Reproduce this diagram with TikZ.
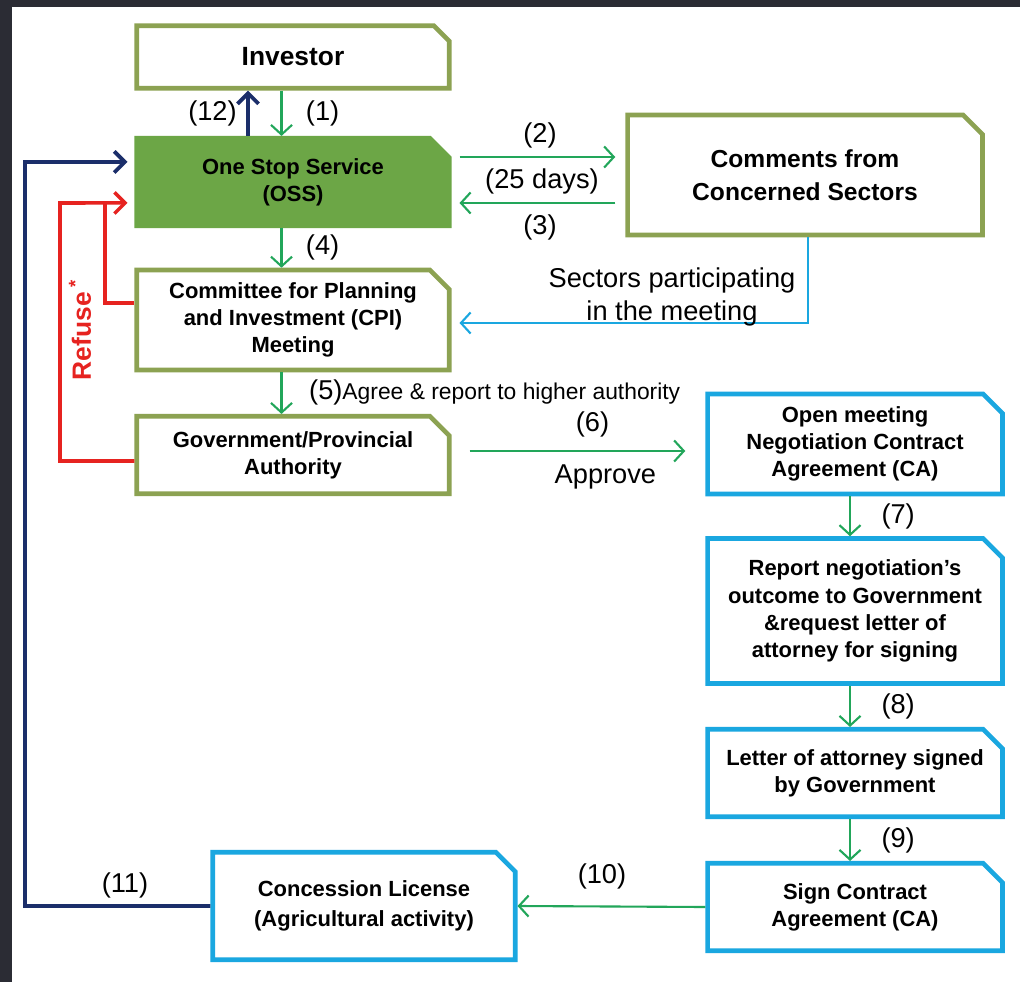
\documentclass[tikz,border=0pt]{standalone}
\usepackage{fontspec}
\setmainfont{Liberation Sans}
\usetikzlibrary{arrows.meta,shapes.misc}
\definecolor{boxolive}{RGB}{140,162,82}
\definecolor{ossgreen}{RGB}{108,166,70}
\definecolor{flowgreen}{RGB}{34,166,90}
\definecolor{stepblue}{RGB}{26,167,224}
\definecolor{backnavy}{RGB}{27,46,106}
\definecolor{refusered}{RGB}{230,35,32}
\definecolor{framegray}{RGB}{43,44,52}
\tikzset{
  cutbox/.style={chamfered rectangle, chamfered rectangle corners=north east,
    chamfered rectangle xsep=7.5pt, inner sep=0pt, align=center, line width=2.6pt,
    font=\bfseries\fontsize{12.5}{15.5}\selectfont},
  olivebox/.style={cutbox, draw=boxolive, fill=white},
  bluebox/.style={cutbox, draw=stepblue, fill=white},
  flow/.style={flowgreen, line width=1.2pt, -{Straight Barb[length=5.5pt,width=12pt]}},
  navyline/.style={backnavy, line width=2.2pt, -{Straight Barb[length=6pt,width=12pt]}},
  refuseline/.style={refusered, line width=2pt},
  lbl/.style={text=black, font=\fontsize{15.5}{18.5}\selectfont}
}
\begin{document}
\begin{tikzpicture}[x=0.02cm, y=-0.02cm]
    \useasboundingbox (0,0) rectangle (1020,982);
    \fill[framegray] (0,0) rectangle (1020,982);
    \fill[white] (12,7) rectangle (1020,982);

    % Left column: green boxes
    \node[olivebox, minimum width=6.25cm, minimum height=1.25cm,
          font=\bfseries\fontsize{15}{18}\selectfont] (inv) at (293,57) {Investor};
    \node[cutbox, fill=ossgreen, draw=ossgreen, minimum width=6.25cm, minimum height=1.75cm] (oss) at (293,182) {One Stop Service\\(OSS)};
    \node[olivebox, minimum width=7.1cm, minimum height=2.4cm,
          font=\bfseries\fontsize{14}{19}\selectfont] (com) at (805,175) {Comments from\\Concerned Sectors};
    \node[olivebox, minimum width=6.25cm, minimum height=2.0cm] (cpi) at (293,320) {Committee for Planning\\and Investment (CPI)\\Meeting};
    \node[olivebox, minimum width=6.25cm, minimum height=1.55cm] (gov) at (293,455) {Government/Provincial\\Authority};

    % Right column: blue boxes
    \node[bluebox, minimum width=5.9cm, minimum height=2.0cm] (open) at (855,444) {Open meeting\\Negotiation Contract\\Agreement (CA)};
    \node[bluebox, minimum width=5.9cm, minimum height=2.9cm] (rep) at (855,611) {Report negotiation's\\outcome to Government\\\&request letter of\\attorney for signing};
    \node[bluebox, minimum width=5.9cm, minimum height=1.75cm] (let) at (855,773) {Letter of attorney signed\\by Government};
    \node[bluebox, minimum width=5.9cm, minimum height=1.75cm] (sign) at (855,907) {Sign Contract\\Agreement (CA)};
    \node[bluebox, minimum width=6.05cm, minimum height=2.15cm,
          font=\bfseries\fontsize{12.5}{17}\selectfont] (con) at (364,906) {Concession License\\(Agricultural activity)};

    % Main flow
    \draw[flow] ([xshift=-0.23cm]inv.south) -- ([xshift=-0.23cm]oss.north) node[midway, right=10pt, lbl] {(1)};
    \draw[navyline] ([xshift=-0.9cm]oss.north) -- ([xshift=-0.9cm]inv.south) node[midway, left=2pt, lbl] {(12)};
    \draw[flow] ([xshift=0.16cm,yshift=0.5cm]oss.east) -- ([xshift=-0.2cm,yshift=0.5cm]oss.east -| com.west);
    \draw[flow] ([xshift=-0.2cm,yshift=-0.42cm]oss.east -| com.west) -- ([xshift=0.16cm,yshift=-0.42cm]oss.east);
    \node[lbl] (d2) at (540,135) {(2)};
    \node[lbl] (days) at (542,181) {(25 days)};
    \node[lbl] (d3) at (540,227) {(3)};
    \draw[flow] ([xshift=-0.23cm]oss.south) -- ([xshift=-0.23cm]cpi.north) node[midway, right=10pt, lbl] {(4)};
    \draw[flow] ([xshift=-0.23cm]cpi.south) -- ([xshift=-0.23cm]gov.north);
    \node[anchor=west, font=\fontsize{13}{16}\selectfont] (agree) at (303,392) {{\fontsize{15.5}{18}\selectfont(5)}Agree \& report to higher authority};
    \draw[stepblue, line width=1.2pt, -{Straight Barb[length=5.5pt,width=12pt]}] ([xshift=0.06cm]com.south) |- ([xshift=0.16cm,yshift=-0.06cm]cpi.east);
    \node[lbl, align=center] (part) at (672,297) {Sectors participating\\in the meeting};
    \draw[flow] ([xshift=0.36cm,yshift=0.08cm]gov.east) -- ([xshift=-0.4cm,yshift=0.08cm]gov.east -| open.west)
        node[pos=0.57, above=4pt, lbl] {(6)} node[pos=0.63, below=4pt, lbl] {Approve};
    \draw[flow] ([xshift=-0.1cm]open.south) -- ([xshift=-0.1cm]rep.north) node[midway, right=14pt, lbl] {(7)};
    \draw[flow] ([xshift=-0.1cm]rep.south) -- ([xshift=-0.1cm]let.north) node[midway, right=14pt, lbl] {(8)};
    \draw[flow] ([xshift=-0.1cm]let.south) -- ([xshift=-0.1cm]sign.north) node[midway, right=14pt, lbl] {(9)};
    \draw[flow] (sign.west) -- (con.east) node[pos=0.55, above=6pt, lbl] {(10)};

    % Back to OSS
    \draw[navyline] (con.west) -| (25,162) -- ([xshift=-0.14cm,yshift=0.4cm]oss.west);
    \node[lbl] (d11) at (125,885) {(11)};
    \draw[refuseline, -{Straight Barb[length=6pt,width=12pt]}] ([yshift=-0.12cm]gov.west) -| (60,203) -- ([xshift=-0.14cm,yshift=-0.42cm]oss.west);
    \draw[refuseline] ([yshift=0.34cm]cpi.west) -| (105,203);
    \node[rotate=90, text=refusered, font=\bfseries\fontsize{15}{18}\selectfont] (ref) at (80,330) {Refuse\,\textsuperscript{*}};
\end{tikzpicture}
\end{document}
